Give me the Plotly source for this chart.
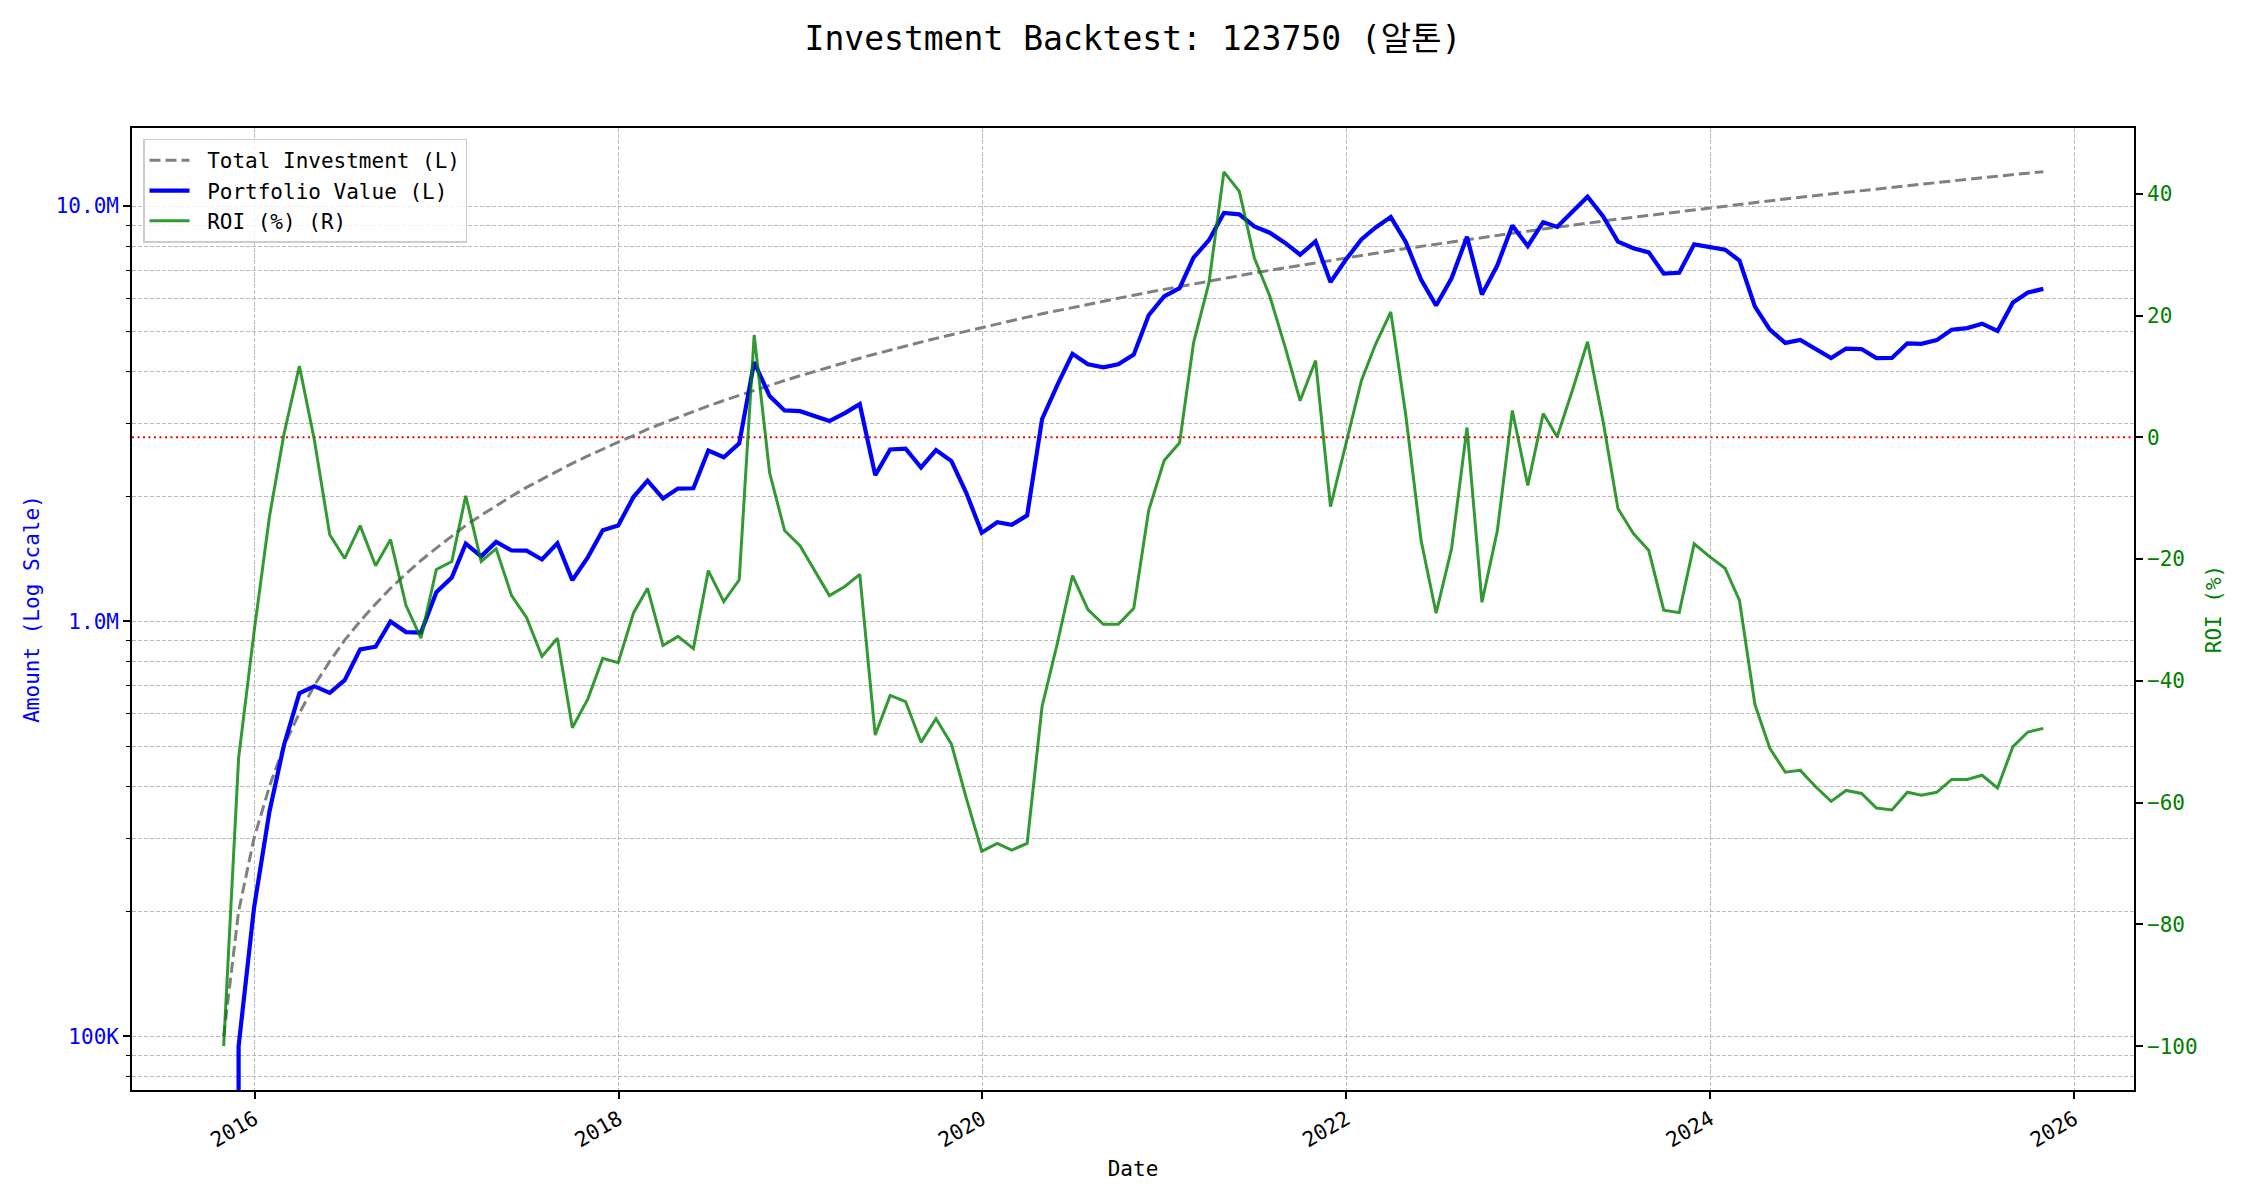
import pandas as pd
import plotly.graph_objects as go

# Month-end observation dates (Oct 2015 .. Oct 2025)
dates = pd.date_range("2015-10-31", "2025-10-31", freq="ME")

# Cumulative investment (thousand KRW)
total_investment_k = [
    100, 200, 300, 400, 500, 600, 700, 800, 900, 1000,
    1100, 1200, 1300, 1400, 1500, 1600, 1700, 1800, 1900, 2000,
    2100, 2200, 2300, 2400, 2500, 2600, 2700, 2800, 2900, 3000,
    3100, 3200, 3300, 3400, 3500, 3600, 3700, 3800, 3900, 4000,
    4100, 4200, 4300, 4400, 4500, 4600, 4700, 4800, 4900, 5000,
    5100, 5200, 5300, 5400, 5500, 5600, 5700, 5800, 5900, 6000,
    6100, 6200, 6300, 6400, 6500, 6600, 6700, 6800, 6900, 7000,
    7100, 7200, 7300, 7400, 7500, 7600, 7700, 7800, 7900, 8000,
    8100, 8200, 8300, 8400, 8500, 8600, 8700, 8800, 8900, 9000,
    9100, 9200, 9300, 9400, 9500, 9600, 9700, 9800, 9900, 10000,
    10100, 10200, 10300, 10400, 10500, 10600, 10700, 10800, 10900, 11000,
    11100, 11200, 11300, 11400, 11500, 11600, 11700, 11800, 11900, 12000,
    12100,
]

# Portfolio value (thousand KRW)
portfolio_value_k = [
    0, 94.6, 204, 348, 502.5, 670.2, 697.2, 672, 720.9, 855,
    867.9, 998.4, 941.2, 938, 1174.5, 1273.6, 1536.8, 1432.8, 1552.3, 1480,
    1478.4, 1408, 1541, 1255.2, 1425, 1656.2, 1701, 1993.6, 2180.8, 1974,
    2086.3, 2089.6, 2577.3, 2482, 2681, 4204.8, 3485.4, 3218.6, 3205.8, 3116,
    3034, 3171, 3332.5, 2248.4, 2592, 2603.6, 2345.3, 2582.4, 2430.4, 2035,
    1632, 1731.6, 1706.6, 1798.2, 3069, 3712.8, 4406.1, 4158.6, 4088.7, 4158,
    4385.9, 5456, 6060.6, 6342.4, 7507.5, 8276.4, 9621.2, 9547.2, 8935.5, 8624,
    8150.8, 7632, 8219.8, 6556.4, 7432.5, 8306.8, 8870.4, 9406.8, 8192.3, 6640,
    5759.1, 6699.4, 8432.8, 6123.6, 7199.5, 8978.4, 8012.7, 9143.2, 8908.9, 9702,
    10528.7, 9448.4, 8211.9, 7914.8, 7733, 6873.6, 6906.4, 8085, 7959.6, 7850,
    7393.2, 5722.2, 5036.7, 4680, 4756.5, 4515.6, 4301.4, 4536, 4523.5, 4301,
    4306.8, 4670.4, 4655.6, 4753.8, 5037, 5080.8, 5206.5, 5003.2, 5854.8, 6192,
    6316.2,
]

# ROI (%)
roi_pct = [
    -100, -52.7, -32, -13, 0.5, 11.7, -0.4, -16, -19.9, -14.5,
    -21.1, -16.8, -27.6, -33, -21.7, -20.4, -9.6, -20.4, -18.3, -26,
    -29.6, -36, -33, -47.7, -43, -36.3, -37, -28.8, -24.8, -34.2,
    -32.7, -34.7, -21.9, -27, -23.4, 16.8, -5.8, -15.3, -17.8, -22.1,
    -26, -24.5, -22.5, -48.9, -42.4, -43.4, -50.1, -46.2, -50.4, -59.3,
    -68, -66.7, -67.8, -66.7, -44.2, -33.7, -22.7, -28.3, -30.7, -30.7,
    -28.1, -12, -3.8, -0.9, 15.5, 25.4, 43.6, 40.4, 29.5, 23.2,
    14.8, 6, 12.6, -11.4, -0.9, 9.3, 15.2, 20.6, 3.7, -17,
    -28.9, -18.3, 1.6, -27.1, -15.3, 4.4, -7.9, 3.9, 0.1, 7.8,
    15.7, 2.7, -11.7, -15.8, -18.6, -28.4, -28.8, -17.5, -19.6, -21.5,
    -26.8, -43.9, -51.1, -55, -54.7, -57.4, -59.8, -58, -58.5, -60.9,
    -61.2, -58.3, -58.8, -58.3, -56.2, -56.2, -55.5, -57.6, -50.8, -48.4,
    -47.8,
]

left_tick_vals = [1e5, 1e6, 1e7]
left_tick_text = ["100K", "1.0M", "10.0M"]
left_minor_vals = [8e4, 9e4] + [m * 1e5 for m in range(2, 10)] + [m * 1e6 for m in range(2, 10)]
right_tick_vals = [-100, -80, -60, -40, -20, 0, 20, 40]
x_tick_vals = ["2016-01-01", "2018-01-01", "2020-01-01", "2022-01-01", "2024-01-01", "2026-01-01"]
x_tick_text = ["2016", "2018", "2020", "2022", "2024", "2026"]

FONT = "DejaVu Sans Mono, Noto Sans CJK KR, monospace"
GREEN = "rgba(0,128,0,0.8)"
PAD = "\u00a0"  # small gap between legend sample and label

invest = [v * 1000 for v in total_investment_k]
portfolio = [v * 1000 for v in portfolio_value_k]

fig = go.Figure()
fig.add_trace(go.Scatter(
    x=dates, y=invest, mode="lines", name=PAD + "Total Investment (L)",
    line=dict(color="gray", width=3, dash="11px,5px"), yaxis="y",
))
fig.add_trace(go.Scatter(
    x=dates, y=portfolio, mode="lines", name=PAD + "Portfolio Value (L)",
    line=dict(color="blue", width=4.2), yaxis="y",
))
fig.add_trace(go.Scatter(
    x=dates, y=roi_pct, mode="lines", name=PAD + "ROI (%) (R)",
    line=dict(color=GREEN, width=3), yaxis="y2",
))

fig.add_shape(
    type="line", xref="paper", x0=0, x1=1, yref="y2", y0=0, y1=0,
    line=dict(color="red", width=2, dash="2px,3.5px"), layer="between",
)

grid_color = "rgba(170,170,170,0.8)"
GRID_DASH = "4px,2px"

fig.update_layout(
    width=2250, height=1200,
    margin=dict(l=124, r=124, t=120, b=118, autoexpand=False),
    paper_bgcolor="white", plot_bgcolor="white",
    font=dict(family=FONT, size=21, color="black"),
    title=dict(
        text="Investment Backtest: 123750 (알톤)",
        font=dict(family=FONT, size=33, color="black"),
        x=0.5, xanchor="center", xref="paper",
        y=1 - 30 / 1200, yanchor="middle", yref="container",
    ),
    showlegend=True,
    legend=dict(
        x=0.0055, y=0.989, xanchor="left", yanchor="top",
        bgcolor="rgba(255,255,255,0.8)", bordercolor="#cccccc", borderwidth=1.5,
        font=dict(family=FONT, size=21, color="black"),
        tracegroupgap=0, itemwidth=40,
    ),
    xaxis=dict(
        type="date", range=["2015-04-30", "2026-05-01"],
        tickvals=x_tick_vals, ticktext=x_tick_text, tickangle=-30,
        ticks="outside", ticklen=7, tickwidth=1.6, tickcolor="black",
        showline=True, linecolor="black", linewidth=1.7, mirror=True,
        showgrid=True, gridcolor=grid_color, griddash=GRID_DASH, gridwidth=1,
        zeroline=False,
        tickfont=dict(family=FONT, size=21, color="black"),
        title=dict(text="Date", font=dict(family=FONT, size=21, color="black"), standoff=10),
        automargin=False,
    ),
    yaxis=dict(
        type="log", range=[4.8706, 7.188],
        tickvals=left_tick_vals, ticktext=left_tick_text,
        ticks="outside", ticklen=7, tickwidth=1.6, tickcolor="black",
        showline=True, linecolor="black", linewidth=1.7,
        showgrid=True, gridcolor=grid_color, griddash=GRID_DASH, gridwidth=1,
        minor=dict(tickvals=left_minor_vals, ticks="outside", ticklen=4, tickwidth=1.2,
                   tickcolor="black", showgrid=True, gridcolor=grid_color,
                   griddash=GRID_DASH, gridwidth=1),
        zeroline=False,
        tickfont=dict(family=FONT, size=21, color="blue"),
        title=dict(text="Amount (Log Scale)", font=dict(family=FONT, size=21, color="blue"), standoff=10),
        automargin=False,
    ),
    yaxis2=dict(
        overlaying="y", side="right", range=[-107.2, 50.8],
        tickvals=right_tick_vals,
        ticks="outside", ticklen=7, tickwidth=1.6, tickcolor="black",
        showline=True, linecolor="black", linewidth=1.7,
        showgrid=False, zeroline=False,
        tickfont=dict(family=FONT, size=21, color="green"),
        title=dict(text="ROI (%)", font=dict(family=FONT, size=21, color="green"), standoff=10),
        automargin=False,
    ),
)

fig.write_html("out.html")
